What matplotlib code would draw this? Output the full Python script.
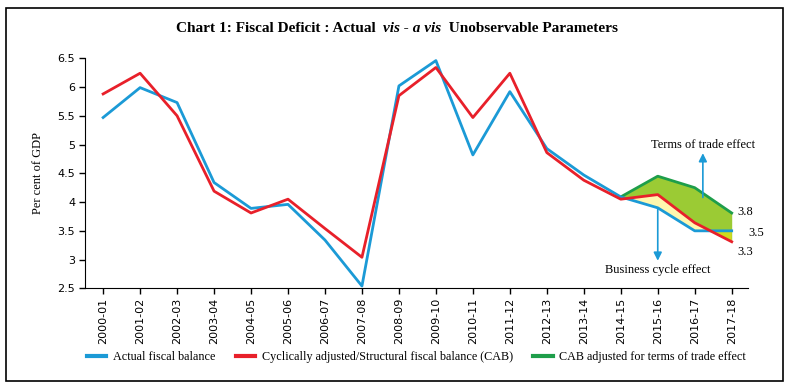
import numpy as np
import matplotlib
matplotlib.use("Agg")
import matplotlib.pyplot as plt
from matplotlib.patches import Rectangle

# Datos
years = ["2000-01", "2001-02", "2002-03", "2003-04", "2004-05", "2005-06",
         "2006-07", "2007-08", "2008-09", "2009-10", "2010-11", "2011-12",
         "2012-13", "2013-14", "2014-15", "2015-16", "2016-17", "2017-18"]
actual = [5.47, 5.99, 5.73, 4.34, 3.89, 3.96, 3.34, 2.54, 6.02, 6.46,
          4.82, 5.92, 4.93, 4.47, 4.09, 3.90, 3.50, 3.50]
cab = [5.88, 6.24, 5.50, 4.19, 3.81, 4.05, 3.54, 3.04, 5.85, 6.34,
       5.47, 6.24, 4.86, 4.38, 4.05, 4.13, 3.64, 3.31]
# solo desde 2014-15
tot_years = ["2014-15", "2015-16", "2016-17", "2017-18"]
cab_tot = [4.09, 4.45, 4.25, 3.81]

BLUE = "#1B9AD6"
RED = "#E8202A"
GREEN = "#1E9E4A"
SERIF = ["Liberation Serif", "DejaVu Serif"]

x = np.arange(len(years))
xt = np.array([years.index(y) for y in tot_years])
act_t = np.array([actual[i] for i in xt])
cab_t = np.array([cab[i] for i in xt])
tot_t = np.array(cab_tot)

fig = plt.figure(figsize=(7.9, 3.86), dpi=100)
ax = fig.add_axes([0.1076, 0.253, 0.8392, 0.596])

# Areas sombreadas
xf = np.linspace(xt[0], xt[-1], 200)
a_i = np.interp(xf, xt, act_t)
c_i = np.interp(xf, xt, cab_t)
t_i = np.interp(xf, xt, tot_t)
ax.fill_between(xf, c_i, t_i, color="#9BCB34", lw=0, zorder=1)
ax.fill_between(xf, a_i, c_i, where=c_i >= a_i, color="#FFF7AE", lw=0, zorder=1)
ax.fill_between(xf, c_i, a_i, where=a_i > c_i, color="#CFDB1E", lw=0, zorder=1)

ax.plot(x, actual, color=BLUE, lw=2, label="Actual fiscal balance", zorder=3)
ax.plot(x, cab, color=RED, lw=2,
        label="Cyclically adjusted/Structural fiscal balance (CAB)", zorder=3)
ax.plot(xt, cab_tot, color=GREEN, lw=2,
        label="CAB adjusted for terms of trade effect", zorder=2)

# Flechas
ax.annotate("", xy=(16.22, 4.85), xytext=(16.22, 4.08),
            arrowprops=dict(arrowstyle="-|>", color=BLUE, lw=1.2,
                            mutation_scale=12, shrinkA=0, shrinkB=0), zorder=4)
ax.annotate("", xy=(15.0, 2.98), xytext=(15.0, 3.90),
            arrowprops=dict(arrowstyle="-|>", color=BLUE, lw=1.2,
                            mutation_scale=12, shrinkA=0, shrinkB=0), zorder=4)
ax.text(16.22, 5.0, "Terms of trade effect", ha="center", va="center",
        family=SERIF, fontsize=9)
ax.text(15.0, 2.82, "Business cycle effect", ha="center", va="center",
        family=SERIF, fontsize=9)

# Valores finales
ax.text(17.15, 3.83, "3.8", ha="left", va="center", family=SERIF, fontsize=9,
        clip_on=False)
ax.text(17.45, 3.47, "3.5", ha="left", va="center", family=SERIF, fontsize=9,
        clip_on=False)
ax.text(17.15, 3.14, "3.3", ha="left", va="center", family=SERIF, fontsize=9,
        clip_on=False)

# Ejes
ax.set_xlim(-0.49, 17.44)
ax.set_ylim(2.5, 6.5)
ax.set_yticks(np.arange(2.5, 6.51, 0.5))
ax.set_yticklabels(["%g" % v for v in np.arange(2.5, 6.51, 0.5)])
ax.set_xticks(x)
ax.set_xticklabels(years, rotation=90)
ax.tick_params(labelsize=8, length=4, width=1, color="black", pad=3)
ax.spines["top"].set_visible(False)
ax.spines["right"].set_visible(False)
ax.set_ylabel("Per cent of GDP", family=SERIF, fontsize=9, labelpad=10)

leg = fig.legend(loc="center", bbox_to_anchor=(0.527, 0.075), ncol=3,
                 frameon=False, handlelength=1.6, handletextpad=0.55,
                 columnspacing=1.7, prop={"family": SERIF, "size": 8.7})
for h in leg.legend_handles:
    h.set_linewidth(3)

# Titulo en tres partes
fig.canvas.draw()
r = fig.canvas.get_renderer()
parts = [("Chart 1: Fiscal Deficit : Actual  ", "normal"),
         ("vis - a vis", "italic"),
         ("  Unobservable Parameters", "normal")]
texts = []
for s, st in parts:
    texts.append(fig.text(0, 0.925, s, family=SERIF, fontsize=11,
                          weight="bold", style=st, va="center"))
widths = [t.get_window_extent(r).width for t in texts]
start = (790 - sum(widths)) / 2 + 2
for t, w in zip(texts, widths):
    t.set_x(start / 790)
    start += w

# Marco
fig.patches.append(Rectangle((0.0075, 0.013), 0.984, 0.966, transform=fig.transFigure,
                             fill=False, edgecolor="black", lw=1.2))

fig.savefig("out.png", dpi=100)
